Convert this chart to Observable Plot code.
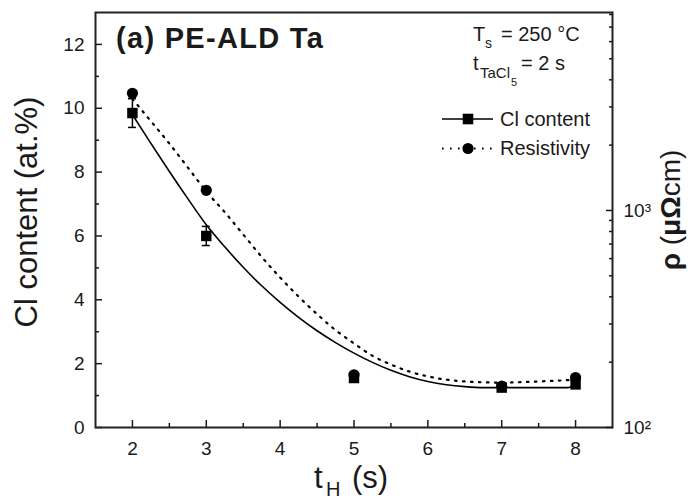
<!DOCTYPE html>
<html>
<head>
<meta charset="utf-8">
<script src="https://cdn.jsdelivr.net/npm/d3@7"></script>
<script src="https://cdn.jsdelivr.net/npm/@observablehq/plot@0.6"></script>
<style>
  html, body { margin: 0; padding: 0; background: #fff; }
  #wrap { position: relative; width: 696px; height: 501px; overflow: hidden; font-family: "Liberation Sans", Arial, sans-serif; }
  #wrap > div, #wrap > svg { position: absolute; left: 0; top: 0; }
  #ann text { fill: #1a1a1a; font-family: "Liberation Sans", Arial, sans-serif; }
</style>
</head>
<body>
<div id="wrap">
  <div id="p1"></div>
  <div id="p2"></div>
  <svg id="ann" width="696" height="501" viewBox="0 0 696 501">
    <!-- panel title -->
    <text x="116" y="48" font-size="29" font-weight="bold" style="letter-spacing:1.3px">(a) PE-ALD Ta</text>
    <!-- conditions -->
    <text x="473" y="41" font-size="20">T</text>
    <text x="485" y="48" font-size="14">s</text>
    <text x="501" y="41" font-size="20">= 250 °C</text>
    <text x="473" y="70" font-size="20">t</text>
    <text x="480" y="78" font-size="15">TaCl</text>
    <text x="511" y="86" font-size="11">5</text>
    <text x="521" y="70" font-size="20">= 2 s</text>
    <!-- legend -->
    <line x1="442" x2="493" y1="119" y2="119" stroke="#000" stroke-width="1.6"></line>
    <rect x="462.7" y="113.7" width="10.6" height="10.6" fill="#000"></rect>
    <text x="500" y="126" font-size="20">Cl content</text>
    <line x1="442" x2="493" y1="148.5" y2="148.5" stroke="#000" stroke-width="2.2" stroke-dasharray="1.6,6.4"></line>
    <circle cx="468" cy="148.5" r="5.6" fill="#000"></circle>
    <text x="500" y="155" font-size="20">Resistivity</text>
    <!-- axis titles -->
    <text transform="translate(37,212) rotate(-90)" text-anchor="middle" font-size="31">Cl content (at.%)</text>
    <text x="314" y="488" font-size="31">t</text>
    <text x="326" y="496" font-size="20">H</text>
    <text x="352" y="488" font-size="31">(s)</text>
    <text transform="translate(680,210) rotate(-90)" text-anchor="middle" font-size="28"><tspan font-weight="bold">ρ</tspan> (<tspan font-weight="bold">μΩ</tspan>cm)</text>
  </svg>
</div>
<script>
// ---- data ----
const hTime = [2, 3, 5, 7, 8];                      // t_H (s)
const clContent = [9.85, 6.0, 1.55, 1.25, 1.35];    // at.%
const clError = [0.45, 0.3, 0.1, 0.08, 0.1];        // at.%
const resistivity = [3468, 1239, 175, 155, 170];    // µΩcm

const clFitTime = [2.0, 2.25, 2.5, 2.75, 3.0, 3.25, 3.5, 3.75, 4.0, 4.25, 4.5, 4.75, 5.0, 5.25, 5.5, 5.75, 6.0, 6.25, 6.5, 6.75, 7.0, 7.5, 7.9, 8.0];
const clFitValue = [9.8, 8.9, 8.02, 7.17, 6.35, 5.66, 5.02, 4.44, 3.92, 3.45, 3.03, 2.66, 2.33, 2.04, 1.79, 1.59, 1.44, 1.34, 1.28, 1.25, 1.25, 1.25, 1.25, 1.38];

const resFitTime = [2.0, 2.25, 2.5, 2.75, 3.0, 3.25, 3.5, 3.75, 4.0, 4.25, 4.5, 4.75, 5.0, 5.25, 5.5, 5.75, 6.0, 6.5, 7.0, 7.5, 8.0];
const resFitValue = [3266, 2578, 2033, 1578, 1224, 982, 775, 611, 491, 401, 333, 281, 244, 214, 195, 181, 172, 163, 161, 163, 166];

const xTicks = [2, 3, 4, 5, 6, 7, 8];
const xMinorTicks = [2.5, 3.5, 4.5, 5.5, 6.5, 7.5];
const yTicks = [0, 2, 4, 6, 8, 10, 12];
const yMinorTicks = [1, 3, 5, 7, 9, 11];
const rTicks = [100, 1000];
const rTickLabels = ["10²", "10³"];
const rMinorTicks = [200, 300, 400, 500, 600, 700, 800, 900, 2000, 3000, 4000, 5000, 6000, 7000, 8000];

// ---- tables ----
const cl = hTime.map((t, i) => ({t, v: clContent[i], e: clError[i]}));
const res = hTime.map((t, i) => ({t, r: resistivity[i]}));
const clFit = clFitTime.map((t, i) => ({t, v: clFitValue[i]}));
const resFit = resFitTime.map((t, i) => ({t, r: resFitValue[i]}));

const W = 696, H = 501;
const margins = {marginLeft: 95, marginRight: 84, marginTop: 12, marginBottom: 74};
const font = "Liberation Sans, Arial, sans-serif";
const ink = "#1a1a1a";
const intFmt = d => String(d);

const p1 = Plot.plot({
  width: W, height: H, ...margins,
  style: {fontFamily: font, fontSize: "19px", color: ink, background: "white", overflow: "visible"},
  x: {domain: [1.5, 8.5]},
  y: {domain: [0, 13]},
  marks: [
    Plot.axisX({ticks: xTicks, tickFormat: intFmt, tickSize: -7, tickPadding: 21, label: null, strokeWidth: 1.5}),
    Plot.axisX({ticks: xMinorTicks, tickSize: -4, tickFormat: () => "", label: null, strokeWidth: 1.5}),
    Plot.axisY({ticks: yTicks, tickFormat: intFmt, tickSize: -7, tickPadding: 18, label: null, strokeWidth: 1.5}),
    Plot.axisY({ticks: yMinorTicks, tickSize: -4, tickFormat: () => "", label: null, strokeWidth: 1.5}),
    Plot.line(clFit, {x: "t", y: "v", curve: "monotone-x", stroke: "#000", strokeWidth: 1.6}),
    Plot.ruleX(cl, {x: "t", y1: d => d.v - d.e, y2: d => d.v + d.e, stroke: "#000", strokeWidth: 1.5}),
    Plot.ruleY(cl, {y: d => d.v - d.e, x1: "t", x2: "t", insetLeft: -4, insetRight: -4, stroke: "#000", strokeWidth: 1.5}),
    Plot.ruleY(cl, {y: d => d.v + d.e, x1: "t", x2: "t", insetLeft: -4, insetRight: -4, stroke: "#000", strokeWidth: 1.5}),
    Plot.dot(cl, {x: "t", y: "v", symbol: "square", r: 5.9, fill: "#000", stroke: null}),
    Plot.frame({stroke: "#222", strokeWidth: 2})
  ]
});
document.getElementById("p1").append(p1);

const p2 = Plot.plot({
  width: W, height: H, ...margins,
  style: {fontFamily: font, fontSize: "19px", color: ink, background: "transparent", overflow: "visible"},
  x: {domain: [1.5, 8.5], axis: null},
  y: {type: "log", domain: [100, 8170]},
  marks: [
    Plot.axisY({anchor: "right", ticks: rTicks, tickFormat: d => rTickLabels[rTicks.indexOf(d)], tickSize: -7, tickPadding: 18, label: null, strokeWidth: 1.5}),
    Plot.axisY({anchor: "right", ticks: rMinorTicks, tickFormat: () => "", tickSize: -4, label: null, strokeWidth: 1.5}),
    Plot.line(resFit, {x: "t", y: "r", curve: "monotone-x", stroke: "#000", strokeWidth: 2.2, strokeDasharray: "1.6,6.4"}),
    Plot.dot(res, {x: "t", y: "r", r: 5.6, fill: "#000", stroke: null})
  ]
});
document.getElementById("p2").append(p2);
</script>
</body>
</html>
